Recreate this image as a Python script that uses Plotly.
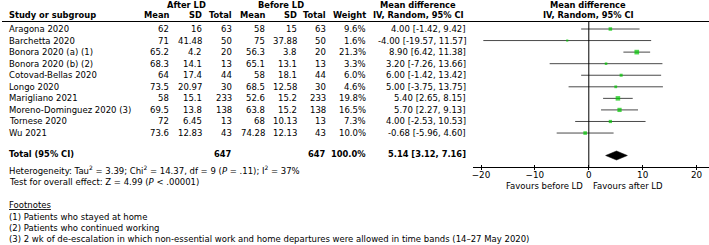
import plotly.graph_objects as go
import math

# ---------------- data ----------------
studies = ["Aragona 2020", "Barchetta 2020", "Bonora 2020 (a) (1)", "Bonora 2020 (b) (2)",
           "Cotovad-Bellas 2020", "Longo 2020", "Marigliano 2021",
           "Moreno-Dominguez 2020 (3)", "Tornese 2020", "Wu 2021"]
after_mean = [62, 71, 65.2, 68.3, 64, 73.5, 58, 69.5, 72, 73.6]
after_sd = ["16", "41.48", "4.2", "14.1", "17.4", "20.97", "15.1", "13.8", "6.45", "12.83"]
after_n = [63, 50, 20, 13, 44, 30, 233, 138, 13, 43]
before_mean = [58, 75, 56.3, 65.1, 58, 68.5, 52.6, 63.8, 68, 74.28]
before_sd = ["15", "37.88", "3.8", "13.1", "18.1", "12.58", "15.2", "15.2", "10.13", "12.13"]
before_n = [63, 50, 20, 13, 44, 30, 233, 138, 13, 43]
weights = [9.6, 1.6, 21.3, 3.3, 6.0, 4.6, 19.8, 16.5, 7.3, 10.0]
md = [4.00, -4.00, 8.90, 3.20, 6.00, 5.00, 5.40, 5.70, 4.00, -0.68]
ci_low = [-1.42, -19.57, 6.42, -7.26, -1.42, -3.75, 2.65, 2.27, -2.53, -5.96]
ci_high = [9.42, 11.57, 11.38, 13.66, 13.42, 13.75, 8.15, 9.13, 10.53, 4.60]
total_after = 647
total_before = 647
total_weight = 100.0
total_md = 5.14
total_low = 3.12
total_high = 7.16
x_ticks = [-20, -10, 0, 10, 20]
heterogeneity = "Heterogeneity: Tau<sup>2</sup> = 3.39; Chi<sup>2</sup> = 14.37, df = 9 (<i>P</i> = .11); I<sup>2</sup> = 37%"
overall = "Test for overall effect: Z = 4.99 (<i>P</i> < .00001)"
footnotes = ["(1) Patients who stayed at home",
             "(2) Patients who continued working",
             "(3) 2 wk of de-escalation in which non-essential work and home departures were allowed in time bands (14–27 May 2020)"]

# ---------------- layout helpers ----------------
W, H = 709, 245
FONT = "DejaVu Sans"
FS = 8.5
FSB = 8.3
ROW0, ROWH = 29.0, 11.56


def px(x):
    return x / W


def py(y):
    return 1 - y / H


def prow(p):
    return (p - ROW0) / ROWH


fmt = lambda v: ("%g" % v)

fig = go.Figure()

# CI lines
lx, ly = [], []
for i in range(len(studies)):
    lx += [ci_low[i], ci_high[i], None]
    ly += [i, i, None]
fig.add_trace(go.Scatter(x=lx, y=ly, mode="lines", line=dict(color="#4a4a4a", width=1),
                         hoverinfo="skip"))
# squares
fig.add_trace(go.Scatter(x=md, y=list(range(len(studies))), mode="markers",
                         marker=dict(symbol="square", color="#00c800",
                                     size=[1.2 + 0.75 * math.sqrt(w) for w in weights],
                                     line=dict(width=0))))
# diamond
trow = prow(155.5)
hh = 4.5 / ROWH
fig.add_trace(go.Scatter(x=[total_low, total_md, total_high, total_md, total_low],
                         y=[trow, trow - hh, trow, trow + hh, trow],
                         mode="lines", fill="toself", fillcolor="black",
                         line=dict(color="black", width=0.5)))
# invisible trace on overlay axis (for crossing ticks)
fig.add_trace(go.Scatter(x=[0], y=[0], xaxis="x2", mode="markers",
                         marker=dict(opacity=0), hoverinfo="skip"))

ann = []


def txt(x, y, s, anchor="left", bold=False, size=None):
    if size is None:
        size = FSB if bold else FS
    if bold:
        s = "<b>%s</b>" % s
    ann.append(dict(x=px(x), y=py(y), xref="paper", yref="paper", text=s,
                    showarrow=False, xanchor=anchor, yanchor="middle",
                    borderpad=0,
                    font=dict(family=FONT, size=size, color="black")))


# headers
txt(186, 4.5, "After LD", "center", True)
txt(281, 4.5, "Before LD", "center", True)
txt(418, 4.5, "Mean difference", "center", True)
txt(418, 15.5, "IV, Random, 95% CI", "center", True)
txt(588, 4.5, "Mean difference", "center", True)
txt(588, 15.5, "IV, Random, 95% CI", "center", True)
txt(8, 15.5, "Study or subgroup", "left", True)
for xx, s in [(170, "Mean"), (203, "SD"), (233, "Total"), (266, "Mean"), (298, "SD"),
              (327, "Total"), (367, "Weight")]:
    txt(xx, 15.5, s, "right", True)

# rows
for i, s in enumerate(studies):
    y = ROW0 + i * ROWH
    txt(8, y, s)
    txt(170, y, fmt(after_mean[i]), "right")
    txt(203, y, after_sd[i], "right")
    txt(233, y, str(after_n[i]), "right")
    txt(266, y, fmt(before_mean[i]), "right")
    txt(298, y, before_sd[i], "right")
    txt(327, y, str(before_n[i]), "right")
    txt(367, y, "%.1f%%" % weights[i], "right")
    txt(467, y, "%.2f [%.2f, %.2f]" % (md[i], ci_low[i], ci_high[i]), "right")

# total
txt(8, 153.5, "Total (95% CI)", "left", True)
txt(233, 153.5, str(total_after), "right", True)
txt(327, 153.5, str(total_before), "right", True)
txt(367, 153.5, "%.1f%%" % total_weight, "right", True)
txt(467, 153.5, "%.2f [%.2f, %.2f]" % (total_md, total_low, total_high), "right", True)
txt(8, 170, heterogeneity)
txt(8, 181.5, overall)

# favours
txt(584, 186, "Favours before LD", "right")
txt(592, 186, "Favours after LD", "left")

# footnotes
txt(8, 205, "<u>Footnotes</u>")
for k, f in enumerate(footnotes):
    txt(8, 216.5 + k * 11.3, f)

shapes = [
    dict(type="line", xref="paper", yref="paper", x0=px(2), x1=1, y0=py(21.5), y1=py(21.5),
         line=dict(color="black", width=1)),
    dict(type="line", xref="x", yref="paper", x0=0, x1=0, y0=py(21.5), y1=py(167),
         line=dict(color="black", width=1)),
]

zero_px = 588.8
scale = 5.39
xr = [(473 - zero_px) / scale, (709 - zero_px) / scale]
axpos = py(167)
common = dict(domain=[px(473), 1.0], range=xr, anchor="free", position=axpos,
              tickvals=x_ticks, showgrid=False, zeroline=False, fixedrange=True)
fig.update_layout(
    width=W, height=H, margin=dict(l=0, r=0, t=0, b=0),
    paper_bgcolor="white", plot_bgcolor="rgba(0,0,0,0)", showlegend=False,
    xaxis=dict(**common, showline=True, linecolor="black", linewidth=1,
               ticks="outside", ticklen=2, tickwidth=1, tickcolor="black",
               ticklabelstandoff=-3,
               tickfont=dict(family=FONT, size=8.8, color="black")),
    xaxis2=dict(**common, overlaying="x", showline=False, ticks="inside", ticklen=2,
                tickwidth=1, tickcolor="black", showticklabels=False),
    yaxis=dict(range=[prow(H), prow(0)], domain=[0, 1], visible=False, fixedrange=True),
    annotations=ann, shapes=shapes,
)
fig.write_html("out.html", config={"displayModeBar": False},
               post_script="document.body.style.margin='0';document.body.style.overflow='hidden';")
